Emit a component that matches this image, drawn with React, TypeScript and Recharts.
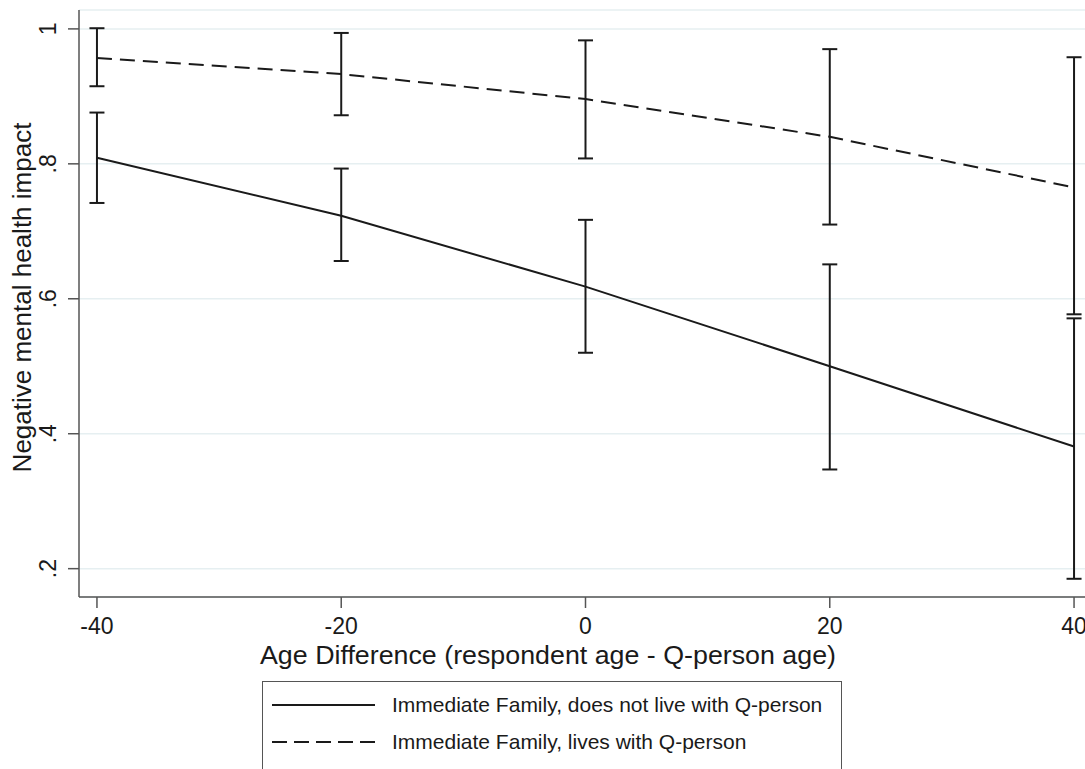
import { ComposedChart, Line, XAxis, YAxis, CartesianGrid, ErrorBar, Legend, Label } from 'recharts';

const ageDiff = [-40, -20, 0, 20, 40];
const notLiveMean = [0.809, 0.723, 0.618, 0.5, 0.381];
const notLiveLow = [0.742, 0.656, 0.52, 0.347, 0.185];
const notLiveHigh = [0.876, 0.793, 0.717, 0.651, 0.571];
const livesMean = [0.957, 0.933, 0.896, 0.84, 0.765];
const livesLow = [0.915, 0.872, 0.808, 0.71, 0.577];
const livesHigh = [1.001, 0.994, 0.983, 0.97, 0.958];

const xTicks = [-40, -20, 0, 20, 40];
const yTicks = [0.2, 0.4, 0.6, 0.8, 1];
const seriesNames = ['Immediate Family, does not live with Q-person', 'Immediate Family, lives with Q-person'];
const xTitle = 'Age Difference (respondent age - Q-person age)';
const yTitle = 'Negative mental health impact';

const font = '"Liberation Sans", Arial, Helvetica, sans-serif';
const ink = '#1a1a1a';
const axisGray = '#555';

const data = ageDiff.map((x, i) => ({
  x,
  notLive: notLiveMean[i],
  notLiveErr: [notLiveMean[i] - notLiveLow[i], notLiveHigh[i] - notLiveMean[i]],
  lives: livesMean[i],
  livesErr: [livesMean[i] - livesLow[i], livesHigh[i] - livesMean[i]]
}));

function fmtY(v: number) {
  return v === 1 ? '1' : v.toFixed(1).replace(/^0/, '');
}

function YTick(props: any) {
  const { x, y, payload } = props;
  const cx = x - 18;
  return (
    <text x={cx} y={y} transform={`rotate(-90 ${cx} ${y})`} textAnchor="middle" dominantBaseline="central"
      fontSize={23} fontFamily={font} fill={ink}>
      {fmtY(payload.value)}
    </text>
  );
}

function XTick(props: any) {
  const { x, y, payload } = props;
  return (
    <text x={x} y={y + 16} textAnchor="middle" dominantBaseline="central" fontSize={23} fontFamily={font} fill={ink}>
      {payload.value}
    </text>
  );
}

function renderLegend(props: any) {
  const items = props.payload || [];
  return (
    <div style={{ width: 580, height: 100, border: `1.5px solid ${axisGray}`, boxSizing: 'border-box', background: '#fff',
      fontFamily: font, fontSize: 21, color: ink, paddingTop: 4 }}>
      {items.map((it: any, i: number) => (
        <div key={i} style={{ display: 'flex', alignItems: 'center', height: 37 }}>
          <svg width={103} height={4} style={{ marginLeft: 9, display: 'block' }}>
            <line x1={0} y1={2} x2={103} y2={2} stroke={ink} strokeWidth={2}
              strokeDasharray={i === 1 ? '15 7' : undefined} />
          </svg>
          <span style={{ marginLeft: 17, whiteSpace: 'nowrap' }}>{it.value}</span>
        </div>
      ))}
    </div>
  );
}

export default function App() {
  return (
    <div style={{ position: 'absolute', left: 0, top: 0, width: 1085, height: 769, overflow: 'hidden', background: '#fff' }}>
      <ComposedChart width={1110} height={769} data={data} margin={{ top: 10, right: 18, bottom: 92, left: 0 }}>
        <CartesianGrid vertical={false} stroke="#e6eff1" strokeWidth={1.5} />
        <XAxis type="number" dataKey="x" domain={[-41.47, 41.47]} ticks={xTicks} height={80}
          axisLine={{ stroke: axisGray, strokeWidth: 1.5 }} tickLine={{ stroke: axisGray, strokeWidth: 1.5 }}
          tickSize={11} tick={<XTick />} interval={0}>
          <Label content={(p: any) => (
            <text x={548} y={p.viewBox.y + 58} textAnchor="middle" dominantBaseline="central"
              fontSize={26} fontFamily={font} fill={ink} textLength={576} lengthAdjust="spacingAndGlyphs">{xTitle}</text>
          )} />
        </XAxis>
        <YAxis type="number" domain={[0.158, 1.028]} ticks={yTicks} width={79}
          axisLine={{ stroke: axisGray, strokeWidth: 1.5 }} tickLine={{ stroke: axisGray, strokeWidth: 1.5 }}
          tickSize={11} tick={<YTick />} interval={0}>
          <Label content={(p: any) => {
            const cx = p.viewBox.x + 22;
            const cy = p.viewBox.y + p.viewBox.height / 2 - 6;
            return (
              <text x={cx} y={cy} transform={`rotate(-90 ${cx} ${cy})`} textAnchor="middle" dominantBaseline="central"
                fontSize={26} fontFamily={font} fill={ink}>{yTitle}</text>
            );
          }} />
        </YAxis>
        <Legend layout="vertical" align="center" verticalAlign="middle" content={renderLegend}
          wrapperStyle={{ left: 262, top: 681 }} />
        <Line name={seriesNames[0]} dataKey="notLive" type="linear" stroke={ink} strokeWidth={2} dot={false}
          isAnimationActive={false}>
          <ErrorBar dataKey="notLiveErr" direction="y" width={7.5} stroke={ink} strokeWidth={2} isAnimationActive={false} />
        </Line>
        <Line name={seriesNames[1]} dataKey="lives" type="linear" stroke={ink} strokeWidth={2} strokeDasharray="15 8"
          dot={false} isAnimationActive={false}>
          <ErrorBar dataKey="livesErr" direction="y" width={7.5} stroke={ink} strokeWidth={2} isAnimationActive={false} />
        </Line>
      </ComposedChart>
    </div>
  );
}
